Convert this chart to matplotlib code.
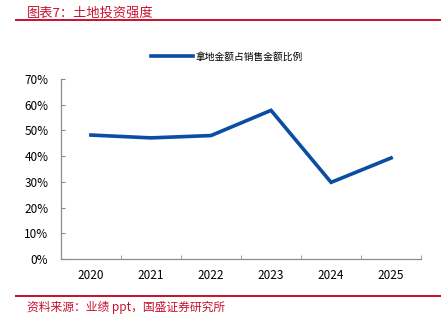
import matplotlib
matplotlib.use("Agg")
from matplotlib import pyplot as plt
from matplotlib.ticker import FixedLocator, PercentFormatter
from matplotlib.lines import Line2D

plt.rcParams['font.family'] = ['Noto Sans CJK SC', 'DejaVu Sans']

years = ['2020', '2021', '2022', '2023', '2024', '2025']
land_ratio = [48.2, 47.1, 48.0, 57.8, 29.8, 39.3]  # 拿地金额 / 销售金额, %
series_name = '拿地金额占销售金额比例'

red = '#C8102E'
blue = '#0A4DA2'
gray = '#8C8C8C'

fig = plt.figure(figsize=(4.41, 3.25), dpi=100)
ax = fig.add_axes([0.138, 0.203, 0.817, 0.554])

x = list(range(len(years)))
ax.plot(x, land_ratio, color=blue, linewidth=2.6, solid_joinstyle='miter')

ax.set_xlim(-0.5, len(years) - 0.5)
ax.set_ylim(0, 70)
ax.yaxis.set_major_locator(FixedLocator(range(0, 71, 10)))
ax.yaxis.set_major_formatter(PercentFormatter(decimals=0))

ax.set_xticks(x)
ax.set_xticklabels(years)
ax.xaxis.set_minor_locator(FixedLocator([i - 0.5 for i in range(len(years) + 1)]))
ax.tick_params(axis='x', which='major', length=0, pad=7, labelsize=8.5)
ax.tick_params(axis='x', which='minor', length=3, color=gray, direction='in')
ax.tick_params(axis='y', length=3, color=gray, labelsize=8.5, pad=9, direction='in')

for side in ('top', 'right'):
    ax.spines[side].set_visible(False)
for side in ('left', 'bottom'):
    ax.spines[side].set_color(gray)
    ax.spines[side].set_linewidth(0.9)

# legend above the plot
handle = Line2D([0], [0], color=blue, linewidth=2.6)
fig.legend([handle], [series_name], loc='center', bbox_to_anchor=(0.515, 0.825),
           frameon=False, fontsize=7, handlelength=4.3, handletextpad=0.3)

# header / footer
fig.text(0.061, 0.978, '图表7：土地投资强度', color=red, fontsize=9.5, va='top', style='italic')
fig.add_artist(Line2D([0.036, 1.0], [0.938, 0.938], color=red, linewidth=1.4))
fig.add_artist(Line2D([0.036, 1.0], [0.089, 0.089], color=red, linewidth=1.4))
fig.text(0.061, 0.055, '资料来源：业绩 ppt，国盛证券研究所', color=red, fontsize=8.5,
         va='center', style='italic')

fig.savefig('out.png', dpi=100)
